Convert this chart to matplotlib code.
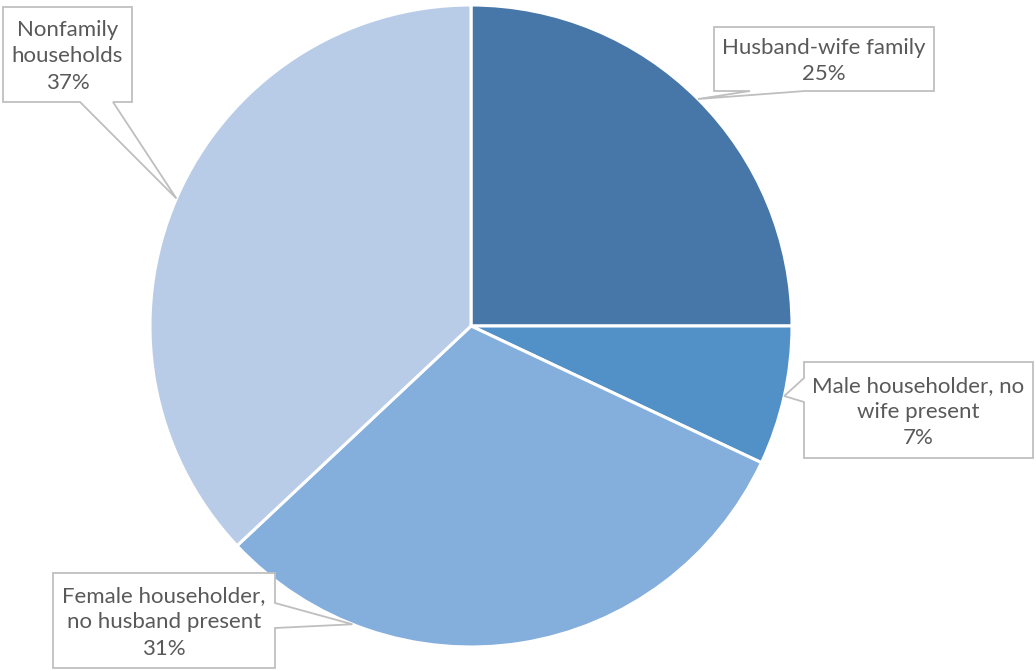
import numpy as np
import matplotlib
matplotlib.use("Agg")
import matplotlib.pyplot as plt
from matplotlib.patches import Polygon

# Household composition shares (percent)
categories = ["Husband-wife family", "Male householder, no\nwife present",
              "Female householder,\nno husband present", "Nonfamily\nhouseholds"]
shares = [25, 7, 31, 37]
colors = ["#4677A8", "#5290C8", "#84AEDC", "#B8CCE7"]

# Callout boxes: (left, top, right, bottom) in pixels from the top-left corner,
# the side carrying the pointer, the pointer base span along that side,
# and where along its wedge the pointer touches the rim (0..1).
boxes = [
    dict(rect=(714, 27, 934, 91), side="bottom", span=(805, 750), frac=0.5),
    dict(rect=(804, 362, 1033, 458), side="left", span=(378, 402), frac=0.5),
    dict(rect=(53, 573, 275, 668), side="right", span=(603, 628), frac=0.775),
    dict(rect=(3, 7, 132, 102), side="bottom", span=(113, 80), frac=0.5),
]

W, H = 1036, 671
fig = plt.figure(figsize=(W / 100, H / 100), dpi=100)
ax = fig.add_axes([0, 0, 1, 1])

cx, cy, r = 471, H - 326, 321
wedges, _ = ax.pie(shares, colors=colors, startangle=90, counterclock=False,
                   center=(cx, cy), radius=r, frame=True,
                   wedgeprops=dict(edgecolor="white", linewidth=2.2))
ax.set_xlim(0, W)
ax.set_ylim(0, H)
ax.set_aspect("equal")
ax.axis("off")

edge = "#BFBFBF"
text_color = "#595959"

for w, b, label, val in zip(wedges, boxes, categories, shares):
    t1, t2 = w.theta1, w.theta2
    ang = np.deg2rad(t2 - b["frac"] * (t2 - t1))
    tip = (cx + r * np.cos(ang), cy + r * np.sin(ang))
    L, T, R, B = b["rect"]
    T, B = H - T, H - B
    s0, s1 = b["span"]
    # Outline of the box with the pointer notch on one side
    if b["side"] == "bottom":
        pts = [(L, T), (R, T), (R, B), (max(s0, s1), B), tip, (min(s0, s1), B), (L, B)]
    elif b["side"] == "left":
        a0, a1 = H - s0, H - s1
        pts = [(L, T), (R, T), (R, B), (L, B), (L, min(a0, a1)), tip, (L, max(a0, a1))]
    else:  # right
        a0, a1 = H - s0, H - s1
        pts = [(L, T), (R, T), (R, max(a0, a1)), tip, (R, min(a0, a1)), (R, B), (L, B)]
    ax.add_patch(Polygon(pts, closed=True, facecolor="white", edgecolor=edge,
                         linewidth=1.3, zorder=5))
    ax.text((L + R) / 2, (T + B) / 2 - 2, f"{label}\n{val}%", ha="center", va="center",
            fontsize=16, family="Lato", color=text_color, linespacing=1.38,
            zorder=6)

fig.savefig("out.png", dpi=100, facecolor="white")
